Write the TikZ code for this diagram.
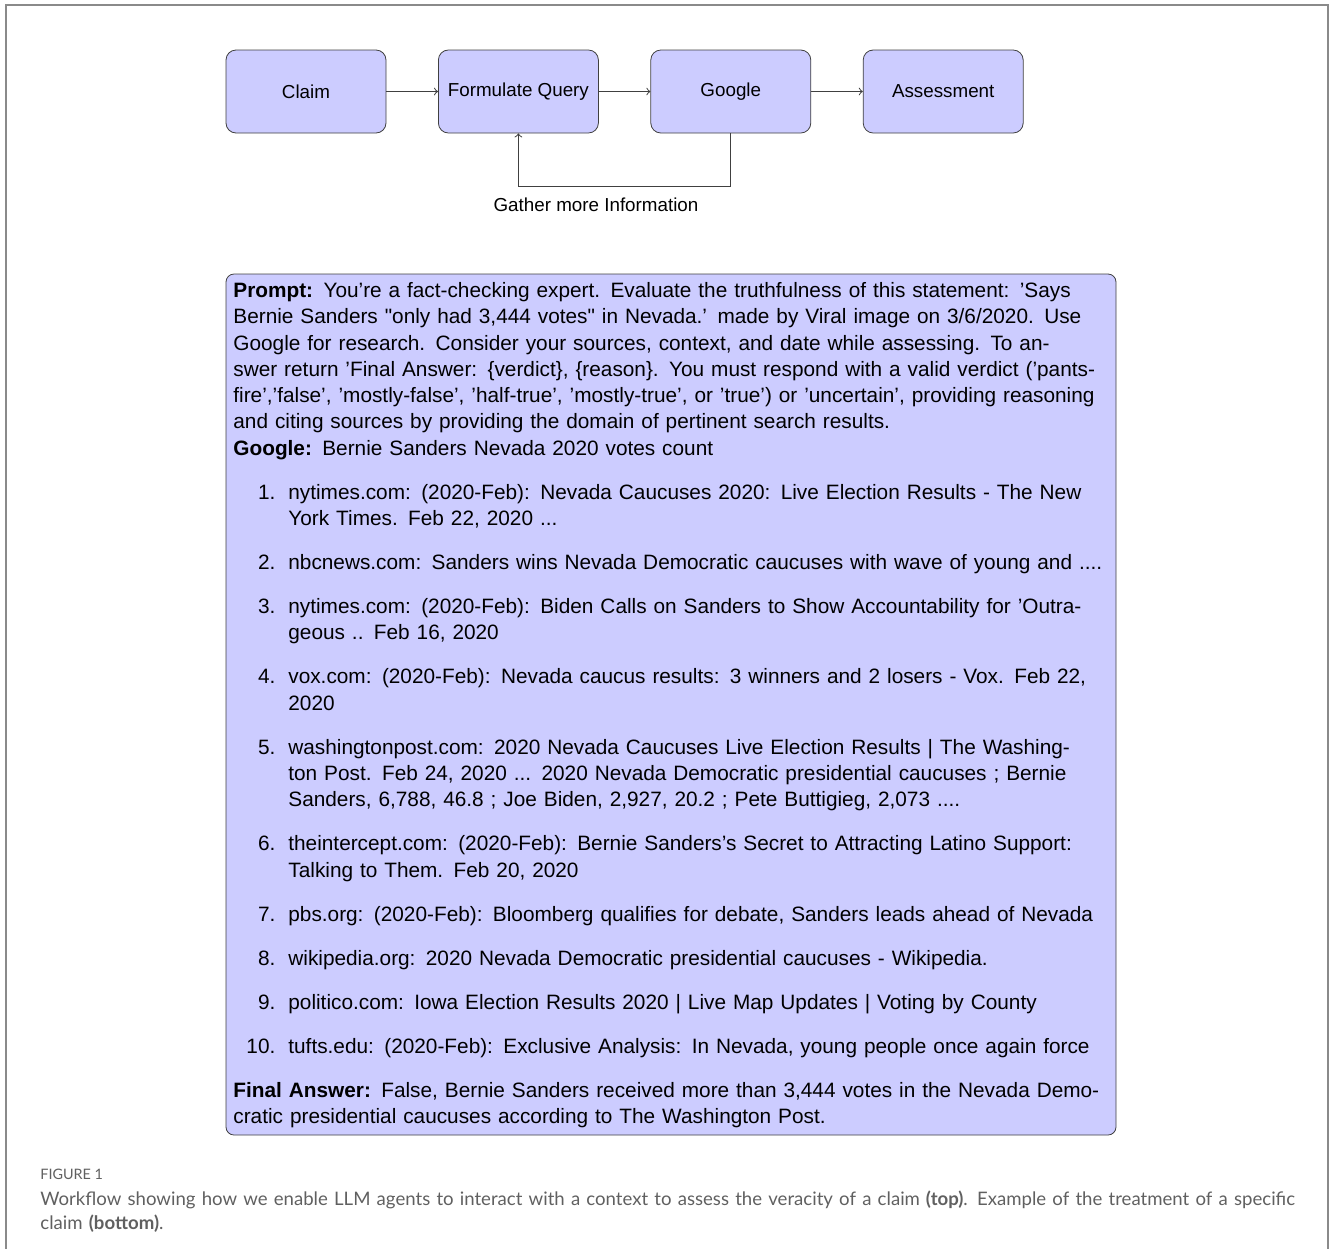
\documentclass[tikz,border=0pt]{standalone}
\usepackage{fontspec}
\setmainfont{Liberation Sans}
\newfontfamily\diagfont{Liberation Sans}
\newfontfamily\capfont{Lato}
\usetikzlibrary{positioning}

\definecolor{boxfill}{HTML}{CCCCFF}
\definecolor{boxline}{HTML}{404040}
\definecolor{framegray}{HTML}{8A8A8A}
\definecolor{capgray}{HTML}{606060}

\tikzset{
  flowbox/.style={draw=boxline, fill=boxfill, rounded corners=5pt,
    minimum width=80pt, minimum height=41.5pt, inner sep=0pt,
    font=\diagfont\fontsize{9.4}{11}\selectfont},
  flowarrow/.style={->, draw=boxline, line width=0.5pt},
  promptbox/.style={draw=boxline, fill=boxfill, rounded corners=4pt,
    minimum width=445pt, minimum height=430.5pt},
}

\newcommand{\itemlbl}[1]{\makebox[27.5pt][l]{\makebox[21pt][r]{#1}}}
\newcommand{\itemcont}{\hspace*{27.5pt}}

\begin{document}
\begin{tikzpicture}[x=0.5pt, y=-0.5pt]
  \useasboundingbox (0,0) rectangle (1330,1249);

  % outer frame
  \draw[framegray, line width=1pt] (6,1249) -- (6,5) -- (1328,5) -- (1328,1249);

  % workflow
  \node[flowbox] (claim) at (306,91.5) {Claim};
  \node[flowbox, right=25.8pt of claim] (query) {Formulate Query};
  \node[flowbox, right=25.8pt of query] (google) {Google};
  \node[flowbox, right=25.8pt of google] (assess) {Assessment};

  \draw[flowarrow] (claim) -- (query);
  \draw[flowarrow] (query) -- (google);
  \draw[flowarrow] (google) -- (assess);
  \draw[flowarrow] (google.south) -- ++(0,53) -| (query.south);
  \node[font=\diagfont\fontsize{9.4}{11}\selectfont] (gather) at (596,205) {Gather more Information};

  % example prompt
  \node[promptbox] (prompt) at (671,704.5) {};
  \node[anchor=north west, inner sep=0pt, text width=460pt, align=left,
    font=\diagfont\fontsize{10.4}{13.15}\selectfont] (prompttext) at (233,282) {%
    \textbf{Prompt:} You’re a fact-checking expert. Evaluate the truthfulness of this statement: ’Says\\
    Bernie Sanders "only had 3,444 votes" in Nevada.’ made by Viral image on 3/6/2020. Use\\
    Google for research. Consider your sources, context, and date while assessing. To an-\\
    swer return ’Final Answer: \{verdict\}, \{reason\}. You must respond with a valid verdict (’pants-\\
    fire’,’false’, ’mostly-false’, ’half-true’, ’mostly-true’, or ’true’) or ’uncertain’, providing reasoning\\
    and citing sources by providing the domain of pertinent search results.\\
    \textbf{Google:} Bernie Sanders Nevada 2020 votes count\\[8.85pt]
    \itemlbl{1.}nytimes.com: (2020-Feb): Nevada Caucuses 2020: Live Election Results - The New\\
    \itemcont York Times. Feb 22, 2020 ...\\[8.85pt]
    \itemlbl{2.}nbcnews.com: Sanders wins Nevada Democratic caucuses with wave of young and ....\\[8.85pt]
    \itemlbl{3.}nytimes.com: (2020-Feb): Biden Calls on Sanders to Show Accountability for ’Outra-\\
    \itemcont geous .. Feb 16, 2020\\[8.85pt]
    \itemlbl{4.}vox.com: (2020-Feb): Nevada caucus results: 3 winners and 2 losers - Vox. Feb 22,\\
    \itemcont 2020\\[8.85pt]
    \itemlbl{5.}washingtonpost.com: 2020 Nevada Caucuses Live Election Results | The Washing-\\
    \itemcont ton Post. Feb 24, 2020 ... 2020 Nevada Democratic presidential caucuses ; Bernie\\
    \itemcont Sanders, 6,788, 46.8 ; Joe Biden, 2,927, 20.2 ; Pete Buttigieg, 2,073 ....\\[8.85pt]
    \itemlbl{6.}theintercept.com: (2020-Feb): Bernie Sanders’s Secret to Attracting Latino Support:\\
    \itemcont Talking to Them. Feb 20, 2020\\[8.85pt]
    \itemlbl{7.}pbs.org: (2020-Feb): Bloomberg qualifies for debate, Sanders leads ahead of Nevada\\[8.85pt]
    \itemlbl{8.}wikipedia.org: 2020 Nevada Democratic presidential caucuses - Wikipedia.\\[8.85pt]
    \itemlbl{9.}politico.com: Iowa Election Results 2020 | Live Map Updates | Voting by County\\[8.85pt]
    \itemlbl{10.}tufts.edu: (2020-Feb): Exclusive Analysis: In Nevada, young people once again force\\[8.85pt]
    \textbf{Final Answer:} False, Bernie Sanders received more than 3,444 votes in the Nevada Demo-\\
    cratic presidential caucuses according to The Washington Post.};

  % caption
  \node[anchor=north west, inner sep=0pt, text=capgray,
    font=\capfont\fontsize{7.2}{8}\selectfont] (figlabel) at (40,1169) {FIGURE 1};
  \node[anchor=north west, inner sep=0pt, text=capgray, text width=660pt, align=left,
    font=\capfont\fontsize{9.3}{12}\selectfont] (caption) at (40,1190) {%
    Workflow showing how we enable LLM agents to interact with a context to assess the veracity of a claim \textbf{(top)}. Example of the treatment of a specific\\
    claim \textbf{(bottom)}.};
\end{tikzpicture}
\end{document}
